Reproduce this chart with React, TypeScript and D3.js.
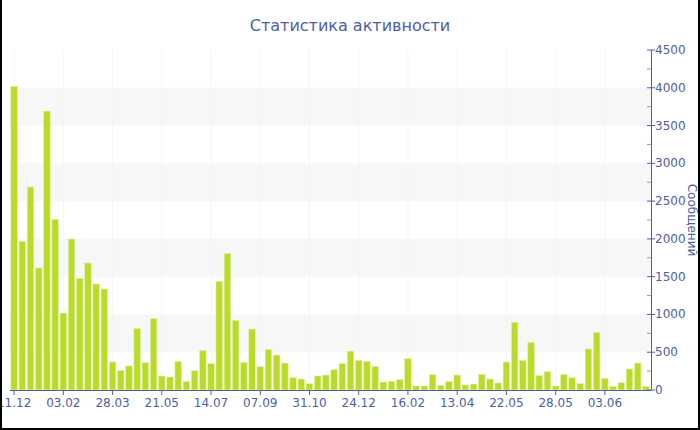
import React from "react";
import * as d3 from "d3";

// messages per period, left to right
const values: number[] = [
  4020, 1968, 2687, 1615, 3692, 2259, 1019, 1998, 1478, 1681, 1403, 1337,
  371, 260, 318, 816, 362, 944, 185, 172, 380, 110, 256, 525,
  349, 1438, 1809, 922, 366, 807, 309, 538, 463, 357, 163, 146,
  84, 185, 198, 269, 350, 515, 393, 380, 313, 106, 115, 141,
  415, 53, 53, 203, 62, 110, 198, 66, 79, 207, 146, 93,
  371, 898, 393, 631, 194, 243, 53, 207, 163, 84, 543, 763,
  154, 48, 97, 278, 357, 48,
];

// labels shown under every 6th bar
const tickLabels: string[] = [
  "11.12", "03.02", "28.03", "21.05", "14.07", "07.09", "31.10",
  "24.12", "16.02", "13.04", "22.05", "28.05", "03.06",
];
const tickEvery = 6;

const yTicks = [0, 500, 1000, 1500, 2000, 2500, 3000, 3500, 4000, 4500];
const bands = [500, 1500, 2500, 3500];

const width = 700;
const height = 430;
const plot = { left: 10, right: 651, top: 50, bottom: 390 };

const axisColor = "#4d5ea6";
const barColor = "#b9dc2b";
const font = "'DejaVu Sans', Verdana, sans-serif";

const x = d3
  .scaleBand<number>()
  .domain(values.map((_, i) => i))
  .range([plot.left, plot.right - 1])
  .paddingInner(0.2)
  .paddingOuter(0.1);

const y = d3.scaleLinear().domain([0, 4500]).range([plot.bottom, plot.top]);

const App = () => {
  const minor = d3.range(250, 4500, 500);
  return (
    <>
      <style>{"body{margin:0}"}</style>
      <svg width={width} height={height} style={{ display: "block", fontFamily: font }}>
        <rect width={width} height={height} fill="#ffffff" />

        {/* alternate grid bands */}
        {bands.map((b) => (
          <rect
            key={b}
            x={plot.left}
            y={y(b + 500)}
            width={plot.right - plot.left}
            height={y(b) - y(b + 500)}
            fill="#f7f7f7"
          />
        ))}

        {/* faint vertical grid */}
        {tickLabels.map((_, k) => {
          const cx = (x(k * tickEvery) ?? 0) + x.bandwidth() / 2;
          return (
            <line key={k} x1={cx} x2={cx} y1={plot.top} y2={plot.bottom} stroke="#f4f4f4" />
          );
        })}

        {/* bars */}
        {values.map((v, i) => (
          <rect
            key={i}
            x={x(i)}
            y={y(v)}
            width={x.bandwidth()}
            height={y(0) - y(v)}
            fill={barColor}
            stroke="#e4f3a8"
            strokeWidth={0.6}
          />
        ))}

        {/* x axis */}
        <line x1={plot.left} x2={plot.right} y1={plot.bottom + 0.5} y2={plot.bottom + 0.5} stroke={axisColor} />
        {tickLabels.map((t, k) => {
          const cx = (x(k * tickEvery) ?? 0) + x.bandwidth() / 2;
          return (
            <g key={t + k}>
              <line x1={cx} x2={cx} y1={plot.bottom} y2={plot.bottom + 5} stroke={axisColor} />
              <text x={cx} y={plot.bottom + 17} textAnchor="middle" fontSize={12} fill={axisColor}>
                {t}
              </text>
            </g>
          );
        })}

        {/* y axis on the right */}
        <line x1={plot.right + 0.5} x2={plot.right + 0.5} y1={plot.top} y2={plot.bottom} stroke={axisColor} />
        {minor.map((m) => (
          <line key={m} x1={plot.right - 4} x2={plot.right} y1={y(m)} y2={y(m)} stroke="#8f9ac4" />
        ))}
        {yTicks.map((t) => (
          <g key={t}>
            <line x1={plot.right - 4} x2={plot.right + 4} y1={y(t)} y2={y(t)} stroke={axisColor} />
            <text x={plot.right + 4} y={y(t) + 4} fontSize={12} fill={axisColor}>
              {t}
            </text>
          </g>
        ))}
        <text
          transform={`translate(${688},${(plot.top + plot.bottom) / 2}) rotate(90)`}
          textAnchor="middle"
          fontSize={12}
          fill={axisColor}
        >
          Сообщений
        </text>

        {/* title */}
        <text x={350} y={31} textAnchor="middle" fontSize={16} fill={axisColor}>
          Статистика активности
        </text>

        {/* outer frame */}
        <line x1={1} x2={1} y1={0} y2={height} stroke="#000" strokeWidth={2} />
        <line x1={width - 1} x2={width - 1} y1={0} y2={height} stroke="#000" strokeWidth={2} />
        <line x1={0} x2={width} y1={height - 1} y2={height - 1} stroke="#000" strokeWidth={2} />
      </svg>
    </>
  );
};

export default App;
